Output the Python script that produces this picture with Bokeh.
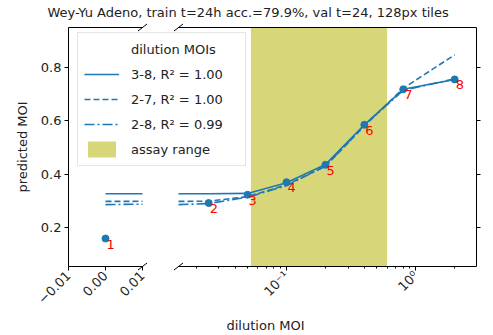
import math
from bokeh.plotting import figure
from bokeh.models import (Range1d, LinearAxis, LogAxis, LogScale, FixedTicker, Legend,
                          LegendItem, CustomJSTickFormatter, Arrow, Title)
from bokeh.core.properties import value
from bokeh.embed import file_html
from bokeh.resources import INLINE

# ---------------- data ----------------
title_text = "Wey-Yu Adeno, train t=24h acc.=79.9%, val t=24, 128px tiles"
x_label = "dilution MOI"
y_label = "predicted MOI"
legend_title = "dilution MOIs"

point_labels = ["1", "2", "3", "4", "5", "6", "7", "8"]
dilution_moi = [0.0, 0.025, 0.05, 0.1, 0.2, 0.4, 0.8, 2.0]
predicted_moi = [0.159, 0.292, 0.323, 0.370, 0.435, 0.585, 0.718, 0.755]

fit_3_8 = [0.327, 0.327, 0.328, 0.368, 0.436, 0.585, 0.718, 0.755]
fit_2_7 = [0.298, 0.299, 0.316, 0.360, 0.430, 0.580, 0.722, 0.847]
fit_2_8 = [0.286, 0.290, 0.314, 0.357, 0.430, 0.584, 0.714, 0.757]
fit_labels = ["3-8, R² = 1.00", "2-7, R² = 1.00", "2-8, R² = 0.99"]
assay_label = "assay range"
assay_range = [0.053, 0.6]

y_ticks = [0.2, 0.4, 0.6, 0.8]
left_x_ticks = [-0.01, 0.0, 0.01]
left_x_tick_labels = ["−0.01", "0.00", "0.01"]
right_x_ticks = [0.1, 1.0]
right_x_tick_labels = ["10⁻¹", "10⁰"]

# ---------------- layout constants ----------------
y_lim = (0.0542, 0.9495)
left_xlim = (-0.01, 0.01)
right_xlim = (0.0146, 2.95)
left_w, gap_w, right_w = 74, 36, 298
axes_h = 239                      # visible axes box height
pad_l, pad_r = 68, 16             # frame extends beyond the axes boxes
pad_t, pad_b = 5, 48
frame_w = pad_l + left_w + gap_w + right_w + pad_r
frame_h = pad_t + axes_h + pad_b

lin_per_px = (left_xlim[1] - left_xlim[0]) / left_w
lin_start = left_xlim[0] - pad_l * lin_per_px
lin_full = (lin_start, lin_start + lin_per_px * frame_w)
lg0, lg1 = math.log10(right_xlim[0]), math.log10(right_xlim[1])
log_per_px = (lg1 - lg0) / right_w
log_full = (10 ** (lg0 - log_per_px * (pad_l + left_w + gap_w)), 10 ** (lg1 + log_per_px * pad_r))
y_per_px = (y_lim[1] - y_lim[0]) / axes_h
y_full = (y_lim[0] - pad_b * y_per_px, y_lim[1] + pad_t * y_per_px)

BLUE = "#1f77b4"
OLIVE = "#bcbd22"
FONT = "DejaVu Sans"
TXT = "#222222"

p = figure(frame_width=frame_w, frame_height=frame_h,
           x_range=Range1d(*lin_full), y_range=Range1d(*y_full),
           x_axis_type=None, y_axis_location="left",
           output_backend="svg", toolbar_location=None,
           min_border_left=0, min_border_right=0, min_border_top=0, min_border_bottom=0,
           background_fill_color="white", border_fill_color="white")
p.extra_x_ranges = {"log": Range1d(*log_full)}
p.extra_x_scales = {"log": LogScale()}
p.outline_line_color = None
p.ygrid.visible = False

p.title.text = title_text
p.title.align = "left"
p.title.offset = 47
p.title.text_font = FONT
p.title.text_font_size = "13px"
p.title.text_font_style = "normal"
p.title.text_color = TXT
p.title.standoff = 5


def style_axis(ax):
    ax.axis_line_color = "black"
    ax.axis_line_width = 1
    ax.major_tick_line_color = "black"
    ax.minor_tick_line_color = "black"
    ax.major_tick_in = 0
    ax.major_tick_out = 4
    ax.minor_tick_in = 0
    ax.minor_tick_out = 2
    ax.major_label_text_font = FONT
    ax.major_label_text_font_size = "13px"
    ax.major_label_text_color = TXT
    ax.axis_label_text_font = FONT
    ax.axis_label_text_font_size = "13px"
    ax.axis_label_text_font_style = "normal"
    ax.axis_label_text_color = TXT


# left y axis, pinned to the left edge of the left axes box
ya = p.yaxis[0]
ya.ticker = FixedTicker(ticks=y_ticks)
ya.bounds = y_lim
ya.fixed_location = left_xlim[0]
ya.axis_label = y_label
style_axis(ya)
ya.major_label_standoff = 3
ya.axis_label_standoff = 8

# right y axis (ticks only), pinned to the right edge of the right axes box
yr = LinearAxis(ticker=FixedTicker(ticks=y_ticks), bounds=y_lim,
                x_range_name="log", fixed_location=right_xlim[1],
                formatter=CustomJSTickFormatter(code="return ''"))
style_axis(yr)
yr.major_label_standoff = 0
p.add_layout(yr, "right")

# bottom axes
xb_lin = LinearAxis(bounds=left_xlim, fixed_location=y_lim[0],
                    ticker=FixedTicker(ticks=left_x_ticks),
                    major_label_overrides=dict(zip(left_x_ticks, left_x_tick_labels)))
style_axis(xb_lin)
xb_lin.major_label_orientation = math.pi / 4
xb_lin.major_label_standoff = 3
p.add_layout(xb_lin, "below")

minor = [k * 10 ** e for e in (-2, -1, 0) for k in range(2, 10)
         if right_xlim[0] <= k * 10 ** e <= right_xlim[1]]
xb_log = LogAxis(x_range_name="log", bounds=right_xlim, fixed_location=y_lim[0],
                 ticker=FixedTicker(ticks=right_x_ticks, minor_ticks=minor),
                 major_label_overrides=dict(zip(right_x_ticks, right_x_tick_labels)))
style_axis(xb_log)
xb_log.major_label_orientation = math.pi / 4
xb_log.major_label_standoff = 3
p.add_layout(xb_log, "below")

# top spines
xt_lin = LinearAxis(bounds=left_xlim, fixed_location=y_lim[1], ticker=FixedTicker(ticks=[]))
style_axis(xt_lin)
p.add_layout(xt_lin, "above")
xt_log = LogAxis(x_range_name="log", bounds=right_xlim, fixed_location=y_lim[1],
                 ticker=FixedTicker(ticks=[]))
style_axis(xt_log)
p.add_layout(xt_log, "above")

xt = Title(text=x_label, align="left", offset=226, text_font=FONT, text_font_size="13px",
           text_font_style="normal", text_color=TXT, standoff=3)
p.add_layout(xt, "below")

# ---------------- glyphs ----------------
dashes = ["solid", "6 3", "10 3 2 3"]
fits = [fit_3_8, fit_2_7, fit_2_8]

# left panel lines (linear scale), trimmed by the white cover drawn afterwards
for f, d in zip(fits, dashes):
    p.line(dilution_moi, f, line_color=BLUE, line_width=1.6, line_dash=d)

p.quad(left=[left_xlim[1]], right=[lin_full[1]], bottom=[y_lim[0]], top=[y_lim[1]],
       fill_color="white", line_color=None)

# right panel (log scale)
assay_r = p.quad(left=[assay_range[0]], right=[assay_range[1]],
                 bottom=[y_lim[0]], top=[y_lim[1]],
                 fill_color=OLIVE, fill_alpha=0.6, line_color=None, x_range_name="log")

right_x = [x if x > 0 else right_xlim[0] for x in dilution_moi]
line_rs = []
for f, d in zip(fits, dashes):
    r = p.line(right_x, f, line_color=BLUE, line_width=1.6, line_dash=d, x_range_name="log")
    line_rs.append(r)

rx = [x for x in dilution_moi if x > 0]
ry = [y for x, y in zip(dilution_moi, predicted_moi) if x > 0]
rl = [l for x, l in zip(dilution_moi, point_labels) if x > 0]
lx = [x for x in dilution_moi if x <= 0]
ly = [y for x, y in zip(dilution_moi, predicted_moi) if x <= 0]
ll = [l for x, l in zip(dilution_moi, point_labels) if x <= 0]

p.scatter(rx, ry, size=7, color=BLUE, x_range_name="log")
p.scatter(lx, ly, size=7, color=BLUE)
for xs, ys, ls, rn in [(rx, ry, rl, "log"), (lx, ly, ll, "default")]:
    p.text(xs, ys, text=ls, x_range_name=rn, text_color="red",
           text_font=value(FONT), text_font_size="13px",
           text_align="left", text_baseline="top", x_offset=1, y_offset=1)

# axis-break marks
hx, hy = 4.5, 3.5
for yc in y_lim:
    y0, y1 = yc - hy * y_per_px, yc + hy * y_per_px
    xc = left_xlim[1]
    p.add_layout(Arrow(end=None, x_start=xc - hx * lin_per_px, x_end=xc + hx * lin_per_px,
                       y_start=y0, y_end=y1, line_color="black", line_width=1))
    p.add_layout(Arrow(end=None, x_start=10 ** (lg0 - hx * log_per_px),
                       x_end=10 ** (lg0 + hx * log_per_px),
                       y_start=y0, y_end=y1, line_color="black", line_width=1,
                       x_range_name="log"))

# ---------------- legend ----------------
n_items = 5
leg_pad, leg_row, leg_sp = 6, 20, 5
leg_h = 2 * leg_pad + n_items * leg_row + (n_items - 1) * leg_sp
dummy = p.line(x=[], y=[], line_alpha=0)
items = [LegendItem(label=legend_title, renderers=[dummy])]
items += [LegendItem(label=lab, renderers=[r]) for lab, r in zip(fit_labels, line_rs)]
items.append(LegendItem(label=assay_label, renderers=[assay_r]))
legend = Legend(items=items, location=(pad_l + 9, frame_h - pad_t - 7 - leg_h),
                padding=leg_pad, spacing=leg_sp,
                glyph_width=35, glyph_height=leg_row, label_height=leg_row, label_standoff=12,
                label_width=108, label_text_font=FONT, label_text_font_size="13px",
                label_text_color=TXT, border_line_color="#cccccc", border_line_width=1,
                background_fill_color="white", background_fill_alpha=0.85)
p.add_layout(legend)

open("out.html", "w").write(file_html(p, INLINE))
